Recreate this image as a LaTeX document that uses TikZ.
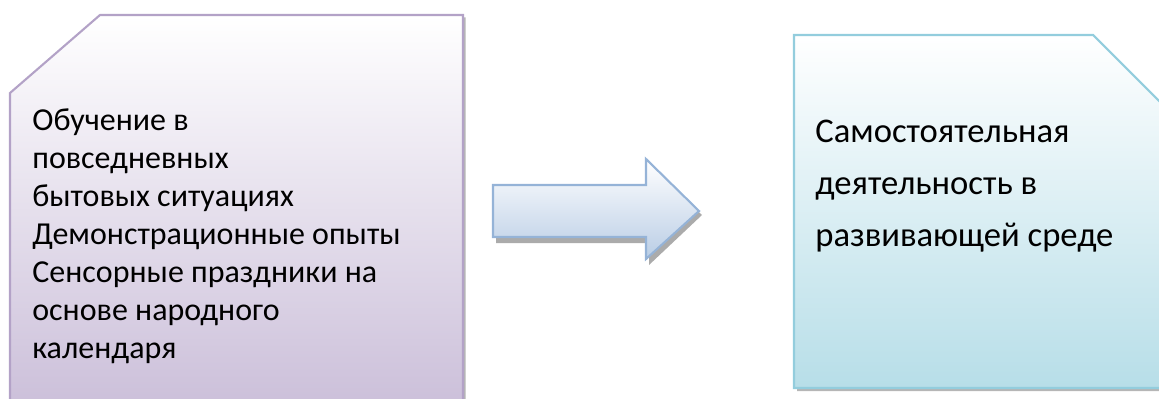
\documentclass[tikz,border=0pt]{standalone}
\usepackage{fontspec}
\setmainfont{Carlito}
\usepackage{xcolor}
\usepackage{tikz}
\usetikzlibrary{calc}
\definecolor{lilacline}{RGB}{179,162,199}
\definecolor{lilacfill}{RGB}{204,192,218}
\definecolor{arrowline}{RGB}{149,179,215}
\definecolor{arrowfill}{RGB}{185,205,229}
\definecolor{aqualine}{RGB}{147,205,221}
\definecolor{aquafill}{RGB}{183,222,232}
\definecolor{shadowgray}{RGB}{150,150,150}

\begin{document}
\begin{tikzpicture}[line join=miter]
\useasboundingbox (0,0) rectangle (23.18,7.96);
\clip (0,0) rectangle (23.18,7.96);
% left box
\fill[shadowgray!70] (0.25,-0.1) -- (0.25,6.05) -- (2.05,7.61) -- (9.31,7.61) -- (9.31,-0.1) -- cycle;
\shade[top color=white, bottom color=lilacfill, draw=lilacline, line width=1.2pt] (0.2,-0.1) -- (0.2,6.10) -- (2.0,7.66) -- (9.26,7.66) -- (9.26,-0.1) -- cycle;
\node[anchor=north west, inner sep=0pt, align=left, font=\fontsize{18.2}{21.7}\selectfont] (methods) at (0.64,5.80)
  {Обучение в\\повседневных\\бытовых ситуациях\\Демонстрационные опыты\\Сенсорные праздники на\\основе народного\\календаря};
% block arrow
\fill[shadowgray!80] ($(9.86,4.26)+(0.06,-0.08)$) -- ++(3.06,0) -- ++(0,0.52) -- ++(1.06,-1.04) -- ++(-1.06,-1.0) -- ++(0,0.44) -- ++(-3.06,0) -- cycle;
\shade[top color=white, bottom color=arrowfill, draw=arrowline, line width=1.2pt] (9.86,4.26) -- (12.92,4.26) -- (12.92,4.78) -- (13.98,3.74) -- (12.92,2.78) -- (12.92,3.22) -- (9.86,3.22) -- cycle;
% right box
\fill[shadowgray!70] (15.94,0.14) -- (15.94,7.20) -- (21.92,7.20) -- (23.5,5.62) -- (23.5,0.14) -- cycle;
\shade[top color=white, bottom color=aquafill, draw=aqualine, line width=1.2pt] (15.88,0.2) -- (15.88,7.26) -- (21.86,7.26) -- (23.5,5.62) -- (23.5,0.2) -- cycle;
\node[anchor=north west, inner sep=0pt, align=left, font=\fontsize{19.7}{29.6}\selectfont] (selfwork) at (16.30,5.56)
  {Самостоятельная\\деятельность в\\развивающей среде};
\end{tikzpicture}
\end{document}
